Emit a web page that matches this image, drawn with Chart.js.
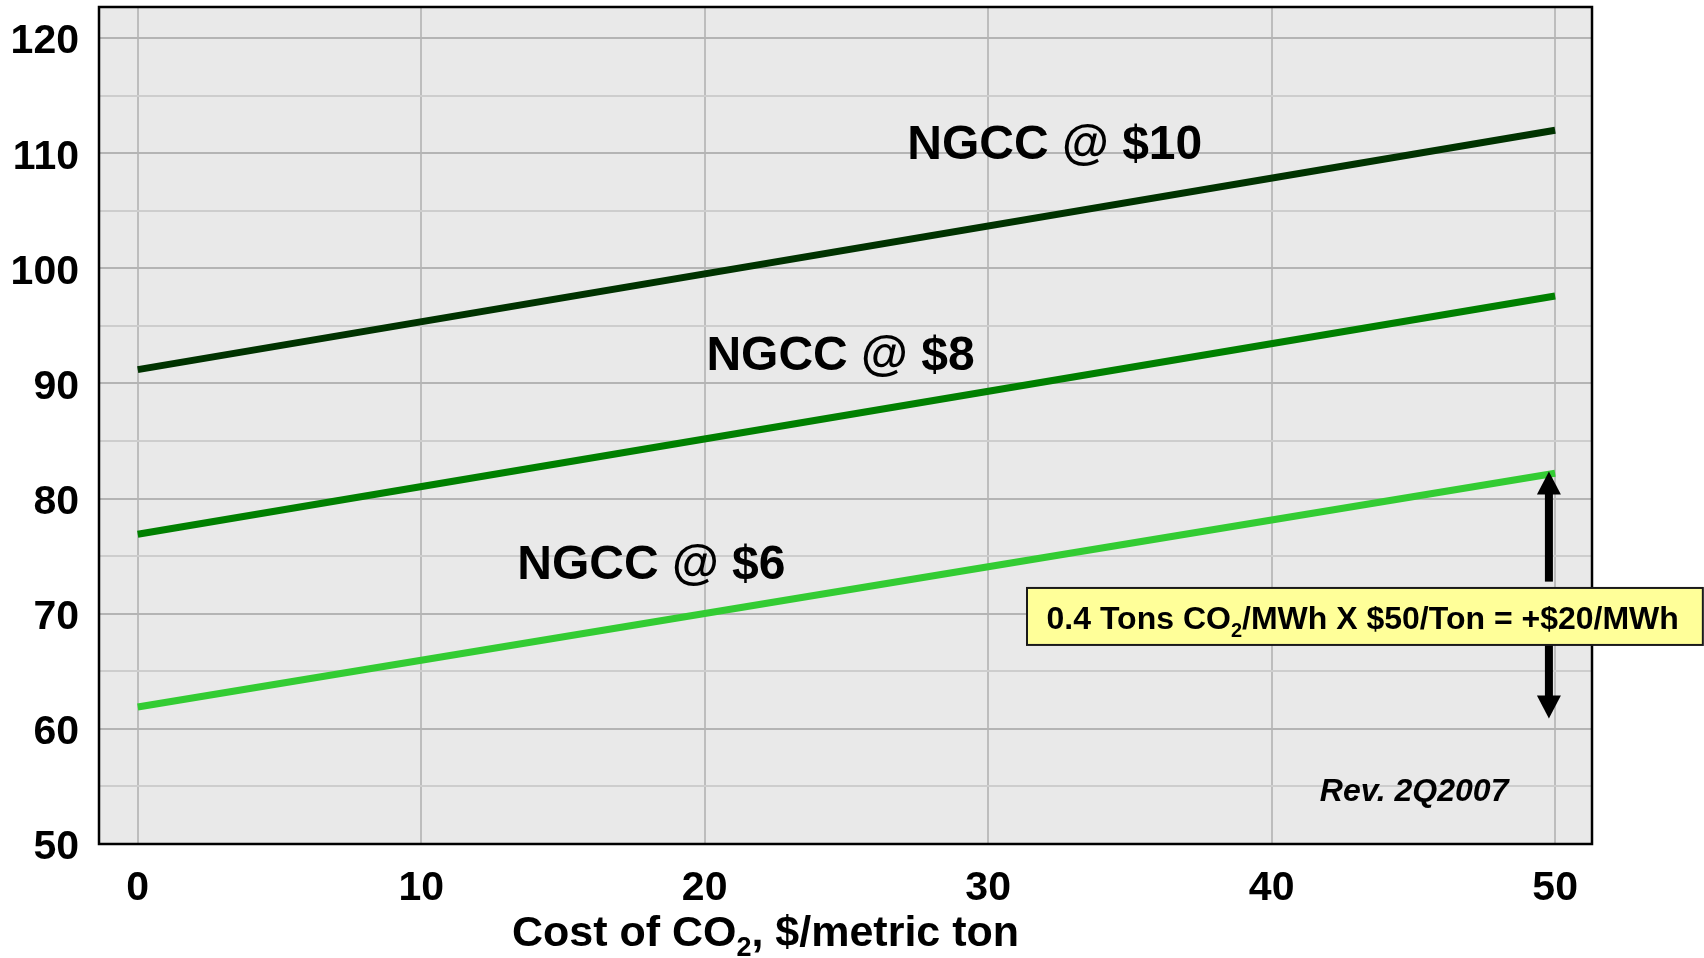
<!DOCTYPE html>
<html>
<head>
<meta charset="utf-8">
<script src="https://cdn.jsdelivr.net/npm/chart.js@4.4.1/dist/chart.umd.min.js"></script>
<style>
  html, body { margin: 0; padding: 0; background: #ffffff; }
  #wrap { width: 1704px; height: 958px; position: relative; }
</style>
</head>
<body>
<div id="wrap"><canvas id="c" width="1704" height="958"></canvas></div>
<script>
// ---- data ----
const xValues = [0, 50];                  // cost of CO2, $/metric ton
const ngcc6  = [61.9, 82.2];              // NGCC @ $6
const ngcc8  = [76.9, 97.6];              // NGCC @ $8
const ngcc10 = [91.2, 112.0];             // NGCC @ $10
const seriesNames = ['NGCC @ $6', 'NGCC @ $8', 'NGCC @ $10'];
const xTickValues = [0, 10, 20, 30, 40, 50];
const yTickValues = [50, 60, 70, 80, 90, 100, 110, 120];
const yMinorValues = [55, 65, 75, 85, 95, 105, 115];
const xTitleParts = [{ t: 'Cost of CO' }, { t: '2', sub: true }, { t: ', $/metric ton' }];
const boxParts = [{ t: '0.4 Tons CO' }, { t: '2', sub: true }, { t: '/MWh X $50/Ton = +$20/MWh' }];
const revText = 'Rev. 2Q2007';

// ---- annotation placement (in data units) ----
const seriesLabelPos = [
  { x: 13.39, y: 73.0 },
  { x: 20.06, y: 91.14 },
  { x: 27.15, y: 109.47 }
];
const arrowSpec = { x: 49.78, top: 82.36, bottom: 60.91, upperEnd: 72.79 };
const boxSpec = { x0: 31.37, x1: 55.21, y0: 72.24, y1: 67.29, tx: 32.06, ty: 68.65 };
const revPos = { x: 41.7, y: 53.76 };
const xTitlePos = { x: 13.2, dy: 102 };

const FONT = '"Liberation Sans", Arial, Helvetica, sans-serif';
const colors = ['#33cc33', '#008000', '#003300'];

function pts(ys) { return xValues.map((x, i) => ({ x: x, y: ys[i] })); }

function drawRich(ctx, parts, x, y, size) {
  let cx = x;
  ctx.textAlign = 'left';
  ctx.textBaseline = 'alphabetic';
  for (const p of parts) {
    if (p.sub) {
      ctx.font = 'bold ' + Math.round(size * 0.62) + 'px ' + FONT;
      ctx.fillText(p.t, cx, y + size * 0.24);
    } else {
      ctx.font = 'bold ' + size + 'px ' + FONT;
      ctx.fillText(p.t, cx, y);
    }
    cx += ctx.measureText(p.t).width;
  }
}

const bgPlugin = {
  id: 'bg',
  beforeDraw(chart) {
    const { ctx, chartArea: a } = chart;
    ctx.save();
    ctx.fillStyle = '#e9e9e9';
    ctx.fillRect(a.left, a.top, a.right - a.left, a.bottom - a.top);
    ctx.restore();
  }
};

const overlayPlugin = {
  id: 'overlay',
  afterDraw(chart) {
    const { ctx, chartArea: a } = chart;
    const xs = chart.scales.x, ys = chart.scales.y;
    ctx.save();
    // frame
    ctx.strokeStyle = '#000000';
    ctx.lineWidth = 2.5;
    ctx.strokeRect(a.left, a.top, a.right - a.left, a.bottom - a.top);

    // series labels
    ctx.fillStyle = '#000000';
    ctx.font = 'bold 48px ' + FONT;
    ctx.textAlign = 'left';
    ctx.textBaseline = 'alphabetic';
    seriesNames.forEach((n, i) => {
      ctx.fillText(n, xs.getPixelForValue(seriesLabelPos[i].x), ys.getPixelForValue(seriesLabelPos[i].y));
    });

    // Rev text
    ctx.font = 'italic bold 32px ' + FONT;
    ctx.fillText(revText, xs.getPixelForValue(revPos.x), ys.getPixelForValue(revPos.y));

    // arrow
    const ax = xs.getPixelForValue(arrowSpec.x);
    const yTop = ys.getPixelForValue(arrowSpec.top);
    const yBot = ys.getPixelForValue(arrowSpec.bottom);
    const yUpEnd = ys.getPixelForValue(arrowSpec.upperEnd);
    const headW = 24, headL = 23, shaftW = 8;
    ctx.fillStyle = '#000000';
    ctx.beginPath();
    ctx.moveTo(ax, yTop);
    ctx.lineTo(ax + headW / 2, yTop + headL);
    ctx.lineTo(ax - headW / 2, yTop + headL);
    ctx.closePath();
    ctx.fill();
    ctx.fillRect(ax - shaftW / 2, yTop + headL - 1, shaftW, yUpEnd - (yTop + headL - 1));
    const bY1 = ys.getPixelForValue(boxSpec.y1);
    ctx.fillRect(ax - shaftW / 2, bY1, shaftW, (yBot - headL + 1) - bY1);
    ctx.beginPath();
    ctx.moveTo(ax, yBot);
    ctx.lineTo(ax + headW / 2, yBot - headL);
    ctx.lineTo(ax - headW / 2, yBot - headL);
    ctx.closePath();
    ctx.fill();

    // yellow box
    const bx0 = xs.getPixelForValue(boxSpec.x0), bx1 = xs.getPixelForValue(boxSpec.x1);
    const by0 = ys.getPixelForValue(boxSpec.y0);
    ctx.fillStyle = '#ffff99';
    ctx.fillRect(bx0, by0, bx1 - bx0, bY1 - by0);
    ctx.strokeStyle = '#1a1a1a';
    ctx.lineWidth = 2;
    ctx.strokeRect(bx0, by0, bx1 - bx0, bY1 - by0);
    ctx.fillStyle = '#000000';
    drawRich(ctx, boxParts, xs.getPixelForValue(boxSpec.tx), ys.getPixelForValue(boxSpec.ty), 32);

    // x axis title
    drawRich(ctx, xTitleParts, xs.getPixelForValue(xTitlePos.x), a.bottom + xTitlePos.dy, 43);
    ctx.restore();
  }
};

new Chart(document.getElementById('c'), {
  type: 'line',
  data: {
    datasets: [
      { label: seriesNames[0], data: pts(ngcc6),  borderColor: colors[0] },
      { label: seriesNames[1], data: pts(ngcc8),  borderColor: colors[1] },
      { label: seriesNames[2], data: pts(ngcc10), borderColor: colors[2] }
    ].map(d => Object.assign(d, { borderWidth: 7, pointRadius: 0, fill: false, tension: 0, borderCapStyle: 'butt' }))
  },
  options: {
    responsive: false,
    animation: false,
    devicePixelRatio: 1,
    layout: { padding: { top: 7, right: 112, left: 0, bottom: 0 } },
    plugins: { legend: { display: false }, tooltip: { enabled: false }, title: { display: false } },
    scales: {
      x: {
        type: 'linear',
        min: -1.365,
        max: 51.3,
        afterBuildTicks(s) { s.ticks = xTickValues.map(v => ({ value: v })); },
        afterFit(s) { s.height = 114; s.paddingLeft = 0; s.paddingRight = 0; },
        border: { display: false },
        grid: { color: '#bdbdbd', lineWidth: 2, drawTicks: false },
        ticks: {
          padding: 20,
          color: '#000000',
          font: { family: FONT, size: 41, weight: 'bold' },
          callback: v => String(v),
          maxRotation: 0,
          autoSkip: false
        }
      },
      y: {
        type: 'linear',
        min: 50,
        max: 122.7,
        afterBuildTicks(s) {
          s.ticks = yTickValues.concat(yMinorValues).sort((a, b) => a - b).map(v => ({ value: v }));
        },
        afterFit(s) { s.width = 99; s.paddingTop = 0; s.paddingBottom = 0; },
        border: { display: false },
        grid: {
          color: c => (yTickValues.includes(c.tick && c.tick.value) ? '#b4b4b4' : '#cdcdcd'),
          lineWidth: 2,
          drawTicks: false
        },
        ticks: {
          padding: 20,
          labelOffset: 4,
          color: '#000000',
          font: { family: FONT, size: 41, weight: 'bold' },
          callback: v => (yTickValues.includes(v) ? String(v) : ''),
          autoSkip: false
        }
      }
    }
  },
  plugins: [bgPlugin, overlayPlugin]
});
</script>
</body>
</html>
